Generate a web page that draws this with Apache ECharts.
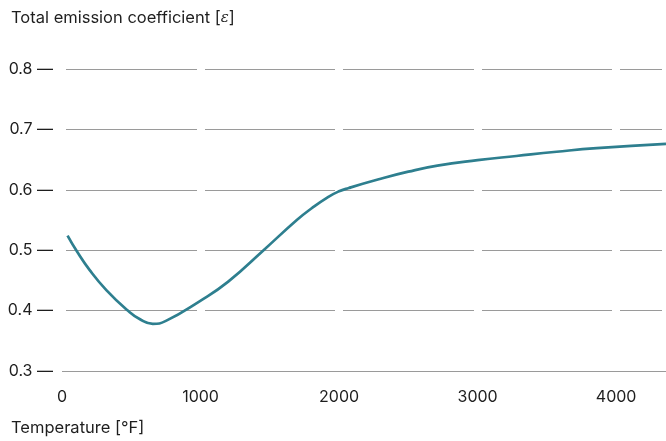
<!DOCTYPE html>
<html>
<head>
<meta charset="utf-8">
<script src="https://cdn.jsdelivr.net/npm/echarts@6/dist/echarts.min.js"></script>
<style>
html,body{margin:0;padding:0;background:#fff;}
#main{width:666px;height:441px;}
</style>
</head>
<body>
<div id="main"></div>
<script>
// emission coefficient vs temperature
var temps = [40, 105, 200, 320, 475, 560, 655, 750, 990, 1200, 1455, 1695, 1800, 1920, 1995, 2070, 2280, 2500, 2710, 3000, 3280, 3570, 3860, 4360];
var coef = [0.524, 0.499, 0.467, 0.434, 0.400, 0.386, 0.378, 0.383, 0.415, 0.448, 0.500, 0.550, 0.569, 0.588, 0.597, 0.603, 0.617, 0.630, 0.640, 0.649, 0.656, 0.663, 0.669, 0.676];
var yTicks = [0.3, 0.4, 0.5, 0.6, 0.7, 0.8];

var pts = [];
for (var i = 0; i < temps.length; i++) pts.push([temps[i], coef[i]]);

var txt = '#1e1e1e';
var fnt = 'Inter';

var myChart = echarts.init(document.getElementById('main'));
var option = {
    animation: false,
    title: [
        {
            text: 'Total emission coefficient [{e|ε}]',
            left: 6, top: 5,
            textStyle: {
                fontFamily: fnt, fontSize: 16.5, fontWeight: 'normal', color: txt,
                rich: {e: {fontFamily: 'DejaVu Serif', fontStyle: 'italic', fontSize: 15, color: txt}}
            }
        },
        {
            text: 'Temperature [°F]',
            left: 6, top: 415,
            textStyle: {fontFamily: fnt, fontSize: 16.5, fontWeight: 'normal', color: txt}
        }
    ],
    grid: {left: 62, right: -4, top: 69, bottom: 70},
    xAxis: {
        type: 'value',
        min: 0, max: 4360, interval: 1000,
        z: 1,
        axisLine: {show: false},
        axisTick: {show: false},
        axisLabel: {
            margin: 18, fontFamily: fnt, fontSize: 16, color: txt, showMaxLabel: false,
            formatter: function (v) { return String(v); }
        },
        splitLine: {show: true, lineStyle: {color: '#fff', width: 8}}
    },
    yAxis: {
        type: 'value',
        min: yTicks[0], max: yTicks[yTicks.length - 1], interval: 0.1,
        z: 0,
        axisLine: {show: false},
        axisTick: {show: false},
        axisLabel: {
            margin: 9, fontFamily: fnt, fontSize: 16, color: txt,
            formatter: function (v) { return v.toFixed(1) + ' —'; }
        },
        splitLine: {show: true, lineStyle: {color: '#9a9a9a', width: 1}}
    },
    series: [{
        type: 'line',
        data: pts,
        smooth: 0.5,
        showSymbol: false,
        z: 3,
        lineStyle: {color: '#2e7f8f', width: 2.7}
    }]
};
myChart.setOption(option);
</script>
</body>
</html>
